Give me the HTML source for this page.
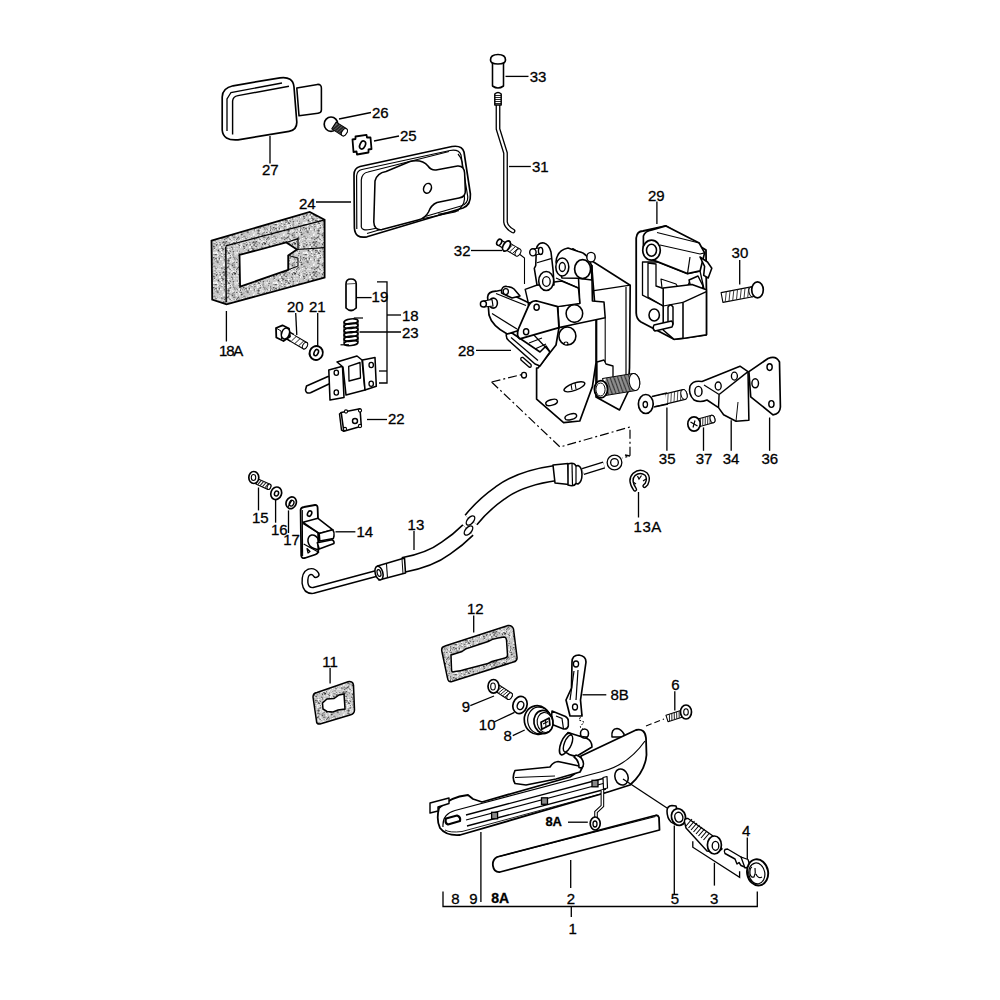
<!DOCTYPE html>
<html><head><meta charset="utf-8"><style>
html,body{margin:0;padding:0;background:#fff;width:1000px;height:1000px;overflow:hidden}
svg{display:block}
text{font-family:"Liberation Sans",sans-serif;fill:#000;stroke:#000;stroke-width:0.3px}
</style></head><body>
<svg width="1000" height="1000" viewBox="0 0 1000 1000">
<text x="262" y="175.3" font-size="15" font-weight="normal">27</text>
<path d="M270.0,136.0 L270.0,163.5" fill="none" stroke="#000" stroke-width="1.32"/>
<text x="372" y="117.5" font-size="15" font-weight="normal">26</text>
<path d="M339.0,119.0 L371.0,112.5" fill="none" stroke="#000" stroke-width="1.32"/>
<text x="400" y="141" font-size="15" font-weight="normal">25</text>
<path d="M374.0,141.0 L399.0,136.0" fill="none" stroke="#000" stroke-width="1.32"/>
<text x="299" y="209" font-size="15" font-weight="normal">24</text>
<path d="M316.0,202.0 L351.0,202.0" fill="none" stroke="#000" stroke-width="1.32"/>
<text x="219" y="355.8" font-size="15" font-weight="normal" letter-spacing="-1.2">18A</text>
<path d="M226.4,311.0 L226.4,341.5" fill="none" stroke="#000" stroke-width="1.32"/>
<text x="287" y="312" font-size="15" font-weight="normal">20</text>
<path d="M295.7,313.0 L296.8,335.0" fill="none" stroke="#000" stroke-width="1.32"/>
<text x="309" y="312" font-size="15" font-weight="normal">21</text>
<path d="M317.7,313.0 L317.7,346.0" fill="none" stroke="#000" stroke-width="1.32"/>
<text x="371.6" y="302" font-size="15" font-weight="normal">19</text>
<path d="M356.0,297.6 L371.6,297.6" fill="none" stroke="#000" stroke-width="1.32"/>
<text x="402" y="320.7" font-size="15" font-weight="normal">18</text>
<path d="M387.0,315.0 L401.0,315.0" fill="none" stroke="#000" stroke-width="1.32"/>
<text x="402" y="338" font-size="15" font-weight="normal">23</text>
<path d="M359.5,332.0 L401.0,332.0" fill="none" stroke="#000" stroke-width="1.32"/>
<text x="388" y="424" font-size="15" font-weight="normal">22</text>
<path d="M367.0,419.5 L387.0,419.5" fill="none" stroke="#000" stroke-width="1.32"/>
<path d="M377.0,281.8 L387.0,281.8 L387.0,383.0 L379.0,383.0" fill="none" stroke="#000" stroke-width="1.32"/>
<path d="M379.0,371.0 L387.0,371.0" fill="none" stroke="#000" stroke-width="1.32"/>
<text x="529.7" y="82.2" font-size="15" font-weight="normal">33</text>
<path d="M505.5,76.4 L528.5,76.4" fill="none" stroke="#000" stroke-width="1.32"/>
<text x="532" y="171.8" font-size="15" font-weight="normal">31</text>
<path d="M509.0,166.5 L530.8,166.5" fill="none" stroke="#000" stroke-width="1.32"/>
<text x="453.8" y="255.7" font-size="15" font-weight="normal">32</text>
<path d="M471.0,250.5 L502.0,250.5" fill="none" stroke="#000" stroke-width="1.32"/>
<text x="648" y="200.7" font-size="15" font-weight="normal">29</text>
<path d="M656.9,201.6 L656.9,224.0" fill="none" stroke="#000" stroke-width="1.32"/>
<text x="731.6" y="258.3" font-size="15" font-weight="normal">30</text>
<path d="M739.7,260.0 L739.7,284.4" fill="none" stroke="#000" stroke-width="1.32"/>
<text x="458" y="356" font-size="15" font-weight="normal">28</text>
<path d="M476.0,350.4 L511.0,350.4" fill="none" stroke="#000" stroke-width="1.32"/>
<text x="658.8" y="463.5" font-size="15" font-weight="normal">35</text>
<path d="M666.9,407.6 L666.9,450.8" fill="none" stroke="#000" stroke-width="1.32"/>
<text x="695.7" y="463.5" font-size="15" font-weight="normal">37</text>
<path d="M703.5,427.4 L703.5,450.8" fill="none" stroke="#000" stroke-width="1.32"/>
<text x="722.7" y="463.5" font-size="15" font-weight="normal">34</text>
<path d="M731.2,420.2 L731.2,450.8" fill="none" stroke="#000" stroke-width="1.32"/>
<text x="761.5" y="463.5" font-size="15" font-weight="normal">36</text>
<path d="M769.6,417.5 L769.6,450.8" fill="none" stroke="#000" stroke-width="1.32"/>
<text x="633.6" y="532" font-size="15" font-weight="normal" letter-spacing="0.5">13A</text>
<path d="M638.5,492.0 L638.5,517.5" fill="none" stroke="#000" stroke-width="1.32"/>
<text x="251.9" y="522.7" font-size="15" font-weight="normal">15</text>
<path d="M258.5,487.5 L258.5,510.4" fill="none" stroke="#000" stroke-width="1.32"/>
<text x="270.9" y="535" font-size="15" font-weight="normal">16</text>
<path d="M275.6,500.0 L275.6,522.7" fill="none" stroke="#000" stroke-width="1.32"/>
<text x="283.2" y="544.5" font-size="15" font-weight="normal">17</text>
<path d="M288.5,510.4 L288.5,533.0" fill="none" stroke="#000" stroke-width="1.32"/>
<text x="356.4" y="537" font-size="15" font-weight="normal">14</text>
<path d="M335.5,531.8 L355.4,531.8" fill="none" stroke="#000" stroke-width="1.32"/>
<text x="407.6" y="530.3" font-size="15" font-weight="normal">13</text>
<path d="M414.0,531.0 L414.0,550.0" fill="none" stroke="#000" stroke-width="1.32"/>
<text x="466.9" y="613.8" font-size="15" font-weight="normal">12</text>
<path d="M473.7,615.5 L473.7,632.5" fill="none" stroke="#000" stroke-width="1.32"/>
<text x="322.3" y="666.5" font-size="15" font-weight="normal">11</text>
<path d="M330.1,668.0 L330.1,683.5" fill="none" stroke="#000" stroke-width="1.32"/>
<text x="461.8" y="712.4" font-size="15" font-weight="normal">9</text>
<path d="M470.3,705.6 L494.0,696.0" fill="none" stroke="#000" stroke-width="1.32"/>
<text x="478.8" y="729.5" font-size="15" font-weight="normal">10</text>
<path d="M494.0,722.0 L514.5,712.4" fill="none" stroke="#000" stroke-width="1.32"/>
<text x="503.6" y="741.4" font-size="15" font-weight="normal">8</text>
<path d="M512.8,735.6 L524.7,730.0" fill="none" stroke="#000" stroke-width="1.32"/>
<text x="610.5" y="699.8" font-size="15" font-weight="normal">8B</text>
<path d="M582.5,694.8 L606.3,694.8" fill="none" stroke="#000" stroke-width="1.32"/>
<text x="671.2" y="690" font-size="15" font-weight="normal">6</text>
<path d="M674.8,691.2 L674.8,710.4" fill="none" stroke="#000" stroke-width="1.32"/>
<text x="742" y="836.4" font-size="15" font-weight="normal">4</text>
<path d="M747.3,837.6 L747.3,859.2" fill="none" stroke="#000" stroke-width="1.32"/>
<text x="545.4" y="826.3" font-size="13" font-weight="bold">8A</text>
<path d="M568.0,822.2 L587.8,822.2" fill="none" stroke="#000" stroke-width="1.32"/>
<text x="451.2" y="904.2" font-size="15" font-weight="normal">8</text>
<text x="469.2" y="904.2" font-size="15" font-weight="normal">9</text>
<text x="491.2" y="902.8" font-size="14" font-weight="bold">8A</text>
<text x="566.8" y="904.2" font-size="15" font-weight="normal">2</text>
<text x="670.8" y="903.8" font-size="15" font-weight="normal">5</text>
<text x="710" y="903.8" font-size="15" font-weight="normal">3</text>
<text x="568.6" y="934" font-size="15" font-weight="normal">1</text>
<path d="M443.0,891.6 L443.0,906.5 L757.3,906.5 L757.3,891.5" fill="none" stroke="#000" stroke-width="1.32"/>
<path d="M571.3,906.5 L571.3,917.0" fill="none" stroke="#000" stroke-width="1.32"/>
<path d="M480.9,832.0 L480.9,902.0" fill="none" stroke="#000" stroke-width="1.32"/>
<path d="M570.7,860.0 L570.7,888.0" fill="none" stroke="#000" stroke-width="1.32"/>
<path d="M674.3,825.6 L674.3,895.0" fill="none" stroke="#000" stroke-width="1.32"/>
<path d="M714.4,862.8 L714.4,885.6" fill="none" stroke="#000" stroke-width="1.32"/>
<defs><pattern id="foam" width="30" height="30" patternUnits="userSpaceOnUse"><rect width="30" height="30" fill="#c8c8c8"/><circle cx="9.7" cy="4.5" r="0.73" fill="#505050"/><circle cx="24.6" cy="2.8" r="0.69" fill="#909090"/><circle cx="1.1" cy="13.0" r="0.43" fill="#505050"/><circle cx="16.5" cy="1.8" r="0.68" fill="#909090"/><circle cx="18.9" cy="17.5" r="0.43" fill="#ffffff"/><circle cx="1.5" cy="6.6" r="0.68" fill="#707070"/><circle cx="8.7" cy="4.3" r="0.46" fill="#e8e8e8"/><circle cx="16.8" cy="20.5" r="0.45" fill="#909090"/><circle cx="11.2" cy="16.4" r="0.43" fill="#303030"/><circle cx="18.6" cy="14.9" r="0.67" fill="#f4f4f4"/><circle cx="14.0" cy="27.7" r="0.58" fill="#909090"/><circle cx="23.8" cy="21.0" r="0.52" fill="#e8e8e8"/><circle cx="15.8" cy="26.3" r="0.76" fill="#e8e8e8"/><circle cx="18.3" cy="2.2" r="0.66" fill="#707070"/><circle cx="22.7" cy="4.6" r="0.64" fill="#303030"/><circle cx="28.9" cy="2.3" r="0.68" fill="#f4f4f4"/><circle cx="10.2" cy="10.5" r="0.65" fill="#ffffff"/><circle cx="2.1" cy="2.8" r="0.53" fill="#505050"/><circle cx="1.8" cy="21.0" r="0.72" fill="#ffffff"/><circle cx="8.5" cy="11.6" r="0.73" fill="#303030"/><circle cx="28.2" cy="10.7" r="0.71" fill="#ffffff"/><circle cx="1.8" cy="23.0" r="0.46" fill="#909090"/><circle cx="11.9" cy="27.5" r="0.65" fill="#707070"/><circle cx="13.5" cy="16.5" r="0.84" fill="#ffffff"/><circle cx="25.9" cy="8.4" r="0.61" fill="#f4f4f4"/><circle cx="20.5" cy="11.4" r="0.52" fill="#505050"/><circle cx="5.3" cy="7.0" r="0.52" fill="#ffffff"/><circle cx="24.9" cy="5.5" r="0.54" fill="#707070"/><circle cx="12.6" cy="11.1" r="0.68" fill="#707070"/><circle cx="20.7" cy="15.5" r="0.71" fill="#303030"/><circle cx="13.7" cy="26.1" r="0.88" fill="#ffffff"/><circle cx="11.9" cy="11.8" r="0.64" fill="#ffffff"/><circle cx="1.9" cy="2.0" r="0.50" fill="#707070"/><circle cx="3.3" cy="18.0" r="0.45" fill="#707070"/><circle cx="16.1" cy="28.5" r="0.71" fill="#505050"/><circle cx="26.2" cy="18.4" r="0.47" fill="#e8e8e8"/><circle cx="28.7" cy="18.1" r="0.64" fill="#505050"/><circle cx="25.5" cy="29.8" r="0.63" fill="#ffffff"/><circle cx="9.4" cy="4.3" r="0.77" fill="#e8e8e8"/><circle cx="14.4" cy="20.8" r="0.66" fill="#909090"/><circle cx="28.5" cy="15.8" r="0.47" fill="#303030"/><circle cx="22.7" cy="8.9" r="0.72" fill="#505050"/><circle cx="20.9" cy="7.8" r="0.58" fill="#707070"/><circle cx="10.7" cy="6.7" r="0.67" fill="#f4f4f4"/><circle cx="19.1" cy="18.4" r="0.79" fill="#909090"/><circle cx="24.2" cy="24.5" r="0.77" fill="#909090"/><circle cx="6.0" cy="14.8" r="0.77" fill="#303030"/><circle cx="23.7" cy="14.2" r="0.50" fill="#f4f4f4"/><circle cx="13.4" cy="28.1" r="0.89" fill="#f4f4f4"/><circle cx="2.4" cy="3.1" r="0.64" fill="#f4f4f4"/><circle cx="6.1" cy="18.7" r="0.85" fill="#303030"/><circle cx="14.4" cy="19.6" r="0.80" fill="#505050"/><circle cx="25.0" cy="3.6" r="0.59" fill="#909090"/><circle cx="14.3" cy="5.4" r="0.79" fill="#f4f4f4"/><circle cx="2.6" cy="28.4" r="0.76" fill="#ffffff"/><circle cx="12.0" cy="28.4" r="0.76" fill="#707070"/><circle cx="29.8" cy="0.8" r="0.70" fill="#ffffff"/><circle cx="24.2" cy="4.4" r="0.81" fill="#ffffff"/><circle cx="19.7" cy="10.5" r="0.67" fill="#707070"/><circle cx="0.6" cy="24.0" r="0.76" fill="#505050"/><circle cx="15.8" cy="28.0" r="0.62" fill="#909090"/><circle cx="24.8" cy="6.3" r="0.53" fill="#e8e8e8"/><circle cx="15.0" cy="22.9" r="0.56" fill="#ffffff"/><circle cx="25.0" cy="1.8" r="0.77" fill="#ffffff"/><circle cx="19.9" cy="24.5" r="0.66" fill="#707070"/><circle cx="16.0" cy="15.7" r="0.41" fill="#ffffff"/><circle cx="23.3" cy="18.3" r="0.79" fill="#707070"/><circle cx="5.2" cy="14.2" r="0.76" fill="#303030"/><circle cx="9.8" cy="15.6" r="0.68" fill="#505050"/><circle cx="26.5" cy="1.7" r="0.50" fill="#303030"/><circle cx="23.2" cy="15.2" r="0.68" fill="#505050"/><circle cx="13.3" cy="18.4" r="0.65" fill="#909090"/><circle cx="20.8" cy="13.6" r="0.67" fill="#ffffff"/><circle cx="15.2" cy="7.4" r="0.66" fill="#e8e8e8"/><circle cx="27.7" cy="26.8" r="0.50" fill="#ffffff"/><circle cx="4.1" cy="3.6" r="0.62" fill="#505050"/><circle cx="20.1" cy="12.9" r="0.51" fill="#e8e8e8"/><circle cx="23.5" cy="26.9" r="0.48" fill="#f4f4f4"/><circle cx="4.3" cy="26.5" r="0.88" fill="#909090"/><circle cx="22.4" cy="2.8" r="0.84" fill="#707070"/><circle cx="29.7" cy="25.0" r="0.48" fill="#ffffff"/><circle cx="29.8" cy="12.1" r="0.61" fill="#f4f4f4"/><circle cx="9.6" cy="21.7" r="0.41" fill="#ffffff"/><circle cx="13.2" cy="0.5" r="0.57" fill="#e8e8e8"/><circle cx="15.4" cy="1.9" r="0.89" fill="#909090"/><circle cx="29.2" cy="3.1" r="0.53" fill="#303030"/><circle cx="27.2" cy="5.4" r="0.78" fill="#ffffff"/><circle cx="25.5" cy="20.3" r="0.87" fill="#ffffff"/><circle cx="4.5" cy="27.6" r="0.69" fill="#f4f4f4"/><circle cx="2.7" cy="1.7" r="0.74" fill="#ffffff"/><circle cx="26.9" cy="8.1" r="0.41" fill="#505050"/><circle cx="24.0" cy="2.5" r="0.83" fill="#505050"/><circle cx="7.9" cy="3.7" r="0.41" fill="#ffffff"/><circle cx="27.8" cy="8.0" r="0.46" fill="#909090"/><circle cx="28.1" cy="29.1" r="0.53" fill="#707070"/><circle cx="6.1" cy="9.4" r="0.55" fill="#909090"/><circle cx="8.7" cy="15.0" r="0.49" fill="#f4f4f4"/><circle cx="24.1" cy="29.8" r="0.42" fill="#303030"/><circle cx="22.0" cy="16.5" r="0.49" fill="#ffffff"/><circle cx="7.4" cy="13.4" r="0.73" fill="#ffffff"/><circle cx="19.7" cy="16.4" r="0.84" fill="#e8e8e8"/><circle cx="20.6" cy="29.5" r="0.57" fill="#707070"/><circle cx="12.1" cy="10.4" r="0.43" fill="#707070"/><circle cx="0.4" cy="18.8" r="0.84" fill="#ffffff"/><circle cx="4.9" cy="2.5" r="0.82" fill="#e8e8e8"/><circle cx="18.0" cy="20.8" r="0.42" fill="#707070"/><circle cx="4.7" cy="13.4" r="0.53" fill="#f4f4f4"/><circle cx="29.2" cy="16.4" r="0.52" fill="#e8e8e8"/><circle cx="6.5" cy="5.5" r="0.57" fill="#505050"/><circle cx="14.2" cy="15.1" r="0.50" fill="#303030"/><circle cx="2.7" cy="24.5" r="0.47" fill="#303030"/><circle cx="11.8" cy="9.0" r="0.71" fill="#505050"/><circle cx="17.6" cy="15.9" r="0.78" fill="#ffffff"/><circle cx="22.9" cy="21.6" r="0.65" fill="#e8e8e8"/><circle cx="21.7" cy="19.3" r="0.42" fill="#ffffff"/><circle cx="22.0" cy="24.4" r="0.47" fill="#303030"/><circle cx="24.8" cy="17.5" r="0.85" fill="#909090"/><circle cx="2.6" cy="1.3" r="0.72" fill="#505050"/><circle cx="11.3" cy="13.5" r="0.43" fill="#303030"/><circle cx="18.8" cy="20.4" r="0.64" fill="#303030"/><circle cx="13.7" cy="2.1" r="0.87" fill="#505050"/><circle cx="19.8" cy="2.0" r="0.77" fill="#e8e8e8"/><circle cx="24.3" cy="25.4" r="0.52" fill="#909090"/><circle cx="6.9" cy="19.5" r="0.63" fill="#ffffff"/><circle cx="2.3" cy="27.3" r="0.54" fill="#303030"/><circle cx="18.5" cy="19.3" r="0.44" fill="#707070"/><circle cx="10.0" cy="19.5" r="0.75" fill="#707070"/><circle cx="0.4" cy="1.8" r="0.53" fill="#505050"/><circle cx="20.8" cy="20.3" r="0.55" fill="#e8e8e8"/><circle cx="13.9" cy="14.0" r="0.46" fill="#909090"/><circle cx="9.4" cy="2.6" r="0.64" fill="#e8e8e8"/><circle cx="13.8" cy="24.6" r="0.88" fill="#ffffff"/><circle cx="29.8" cy="11.6" r="0.86" fill="#909090"/><circle cx="2.2" cy="2.7" r="0.77" fill="#e8e8e8"/><circle cx="28.6" cy="4.0" r="0.81" fill="#e8e8e8"/><circle cx="26.6" cy="21.1" r="0.52" fill="#ffffff"/><circle cx="11.8" cy="4.8" r="0.87" fill="#ffffff"/><circle cx="12.2" cy="21.8" r="0.61" fill="#ffffff"/><circle cx="9.5" cy="25.2" r="0.40" fill="#f4f4f4"/><circle cx="25.2" cy="3.6" r="0.86" fill="#303030"/><circle cx="27.0" cy="8.7" r="0.59" fill="#ffffff"/><circle cx="11.7" cy="26.1" r="0.44" fill="#ffffff"/><circle cx="22.7" cy="25.6" r="0.54" fill="#303030"/><circle cx="25.0" cy="8.6" r="0.87" fill="#909090"/><circle cx="29.1" cy="13.1" r="0.56" fill="#f4f4f4"/><circle cx="23.6" cy="12.8" r="0.41" fill="#ffffff"/><circle cx="27.4" cy="28.2" r="0.67" fill="#505050"/><circle cx="1.5" cy="22.0" r="0.63" fill="#707070"/><circle cx="19.3" cy="8.6" r="0.42" fill="#707070"/><circle cx="5.1" cy="12.4" r="0.54" fill="#e8e8e8"/><circle cx="22.2" cy="29.3" r="0.53" fill="#909090"/><circle cx="9.0" cy="16.7" r="0.60" fill="#707070"/><circle cx="19.3" cy="2.3" r="0.65" fill="#ffffff"/><circle cx="16.5" cy="13.6" r="0.57" fill="#ffffff"/><circle cx="12.8" cy="16.4" r="0.52" fill="#707070"/><circle cx="10.3" cy="2.7" r="0.52" fill="#e8e8e8"/><circle cx="24.3" cy="6.1" r="0.41" fill="#ffffff"/><circle cx="11.5" cy="22.4" r="0.51" fill="#e8e8e8"/><circle cx="10.1" cy="1.9" r="0.54" fill="#f4f4f4"/><circle cx="3.8" cy="15.1" r="0.71" fill="#909090"/><circle cx="2.8" cy="26.9" r="0.59" fill="#ffffff"/><circle cx="13.0" cy="9.4" r="0.81" fill="#303030"/><circle cx="3.8" cy="12.8" r="0.78" fill="#ffffff"/><circle cx="29.0" cy="14.7" r="0.44" fill="#ffffff"/><circle cx="29.2" cy="7.5" r="0.45" fill="#707070"/><circle cx="4.6" cy="29.2" r="0.45" fill="#ffffff"/><circle cx="2.6" cy="23.3" r="0.40" fill="#707070"/><circle cx="7.0" cy="27.6" r="0.72" fill="#e8e8e8"/><circle cx="28.9" cy="18.8" r="0.66" fill="#ffffff"/><circle cx="21.0" cy="3.4" r="0.44" fill="#909090"/><circle cx="11.6" cy="6.7" r="0.70" fill="#303030"/><circle cx="16.1" cy="29.9" r="0.54" fill="#f4f4f4"/><circle cx="19.3" cy="26.5" r="0.64" fill="#909090"/><circle cx="16.4" cy="0.9" r="0.61" fill="#e8e8e8"/><circle cx="1.7" cy="5.8" r="0.84" fill="#ffffff"/><circle cx="2.4" cy="6.8" r="0.61" fill="#f4f4f4"/><circle cx="6.8" cy="1.0" r="0.57" fill="#ffffff"/><circle cx="10.9" cy="11.9" r="0.40" fill="#e8e8e8"/><circle cx="22.2" cy="15.1" r="0.50" fill="#909090"/><circle cx="9.4" cy="24.6" r="0.52" fill="#909090"/><circle cx="8.0" cy="26.7" r="0.45" fill="#ffffff"/><circle cx="18.3" cy="26.9" r="0.64" fill="#303030"/><circle cx="28.5" cy="4.4" r="0.60" fill="#909090"/><circle cx="0.7" cy="17.9" r="0.61" fill="#303030"/><circle cx="5.5" cy="13.5" r="0.76" fill="#f4f4f4"/><circle cx="22.0" cy="29.9" r="0.87" fill="#f4f4f4"/><circle cx="5.7" cy="19.6" r="0.66" fill="#ffffff"/><circle cx="1.0" cy="19.9" r="0.59" fill="#f4f4f4"/><circle cx="29.5" cy="13.3" r="0.45" fill="#505050"/><circle cx="8.4" cy="10.5" r="0.88" fill="#505050"/><circle cx="16.8" cy="22.8" r="0.59" fill="#e8e8e8"/><circle cx="24.7" cy="13.0" r="0.42" fill="#ffffff"/><circle cx="5.9" cy="16.2" r="0.62" fill="#f4f4f4"/><circle cx="10.9" cy="26.9" r="0.42" fill="#ffffff"/><circle cx="7.4" cy="18.8" r="0.60" fill="#ffffff"/><circle cx="1.0" cy="1.9" r="0.86" fill="#e8e8e8"/><circle cx="5.8" cy="1.9" r="0.70" fill="#f4f4f4"/><circle cx="8.2" cy="28.7" r="0.71" fill="#e8e8e8"/><circle cx="22.4" cy="20.7" r="0.86" fill="#e8e8e8"/><circle cx="0.1" cy="22.7" r="0.86" fill="#505050"/><circle cx="0.7" cy="7.0" r="0.64" fill="#ffffff"/><circle cx="28.6" cy="11.6" r="0.53" fill="#ffffff"/><circle cx="24.4" cy="4.0" r="0.65" fill="#303030"/><circle cx="24.1" cy="22.2" r="0.81" fill="#707070"/><circle cx="18.2" cy="9.8" r="0.56" fill="#f4f4f4"/><circle cx="23.5" cy="17.9" r="0.66" fill="#ffffff"/><circle cx="22.6" cy="7.4" r="0.43" fill="#303030"/><circle cx="14.5" cy="16.3" r="0.48" fill="#ffffff"/><circle cx="26.5" cy="29.6" r="0.53" fill="#505050"/><circle cx="6.3" cy="12.6" r="0.89" fill="#ffffff"/><circle cx="5.2" cy="4.0" r="0.63" fill="#909090"/><circle cx="22.4" cy="25.4" r="0.73" fill="#505050"/><circle cx="23.4" cy="8.8" r="0.54" fill="#e8e8e8"/><circle cx="11.2" cy="22.1" r="0.50" fill="#909090"/><circle cx="5.6" cy="7.1" r="0.54" fill="#909090"/><circle cx="9.8" cy="11.9" r="0.90" fill="#909090"/><circle cx="19.5" cy="3.0" r="0.63" fill="#303030"/><circle cx="3.1" cy="14.2" r="0.81" fill="#ffffff"/><circle cx="27.4" cy="1.2" r="0.55" fill="#505050"/><circle cx="1.5" cy="18.0" r="0.81" fill="#909090"/><circle cx="27.9" cy="11.2" r="0.83" fill="#ffffff"/><circle cx="18.1" cy="23.2" r="0.73" fill="#303030"/><circle cx="3.2" cy="17.9" r="0.71" fill="#909090"/><circle cx="1.1" cy="10.2" r="0.42" fill="#e8e8e8"/><circle cx="1.1" cy="22.0" r="0.86" fill="#303030"/><circle cx="24.6" cy="12.3" r="0.59" fill="#e8e8e8"/><circle cx="2.3" cy="0.9" r="0.65" fill="#ffffff"/><circle cx="1.9" cy="3.0" r="0.60" fill="#707070"/><circle cx="19.2" cy="2.7" r="0.48" fill="#e8e8e8"/><circle cx="12.3" cy="8.5" r="0.55" fill="#303030"/><circle cx="9.4" cy="17.0" r="0.58" fill="#ffffff"/><circle cx="0.5" cy="23.0" r="0.80" fill="#909090"/><circle cx="11.7" cy="12.1" r="0.87" fill="#ffffff"/><circle cx="27.0" cy="12.7" r="0.81" fill="#ffffff"/><circle cx="17.3" cy="10.9" r="0.79" fill="#707070"/><circle cx="0.4" cy="16.5" r="0.72" fill="#ffffff"/><circle cx="2.7" cy="18.7" r="0.59" fill="#707070"/><circle cx="4.4" cy="8.5" r="0.66" fill="#505050"/><circle cx="3.3" cy="14.7" r="0.80" fill="#909090"/><circle cx="9.0" cy="25.1" r="0.42" fill="#ffffff"/><circle cx="9.4" cy="18.2" r="0.72" fill="#505050"/><circle cx="27.1" cy="18.6" r="0.81" fill="#707070"/><circle cx="19.2" cy="25.7" r="0.71" fill="#909090"/><circle cx="24.9" cy="5.5" r="0.51" fill="#ffffff"/><circle cx="28.2" cy="4.7" r="0.58" fill="#707070"/><circle cx="7.4" cy="21.7" r="0.85" fill="#303030"/><circle cx="26.5" cy="25.3" r="0.74" fill="#f4f4f4"/><circle cx="3.5" cy="18.0" r="0.68" fill="#e8e8e8"/><circle cx="19.5" cy="9.2" r="0.52" fill="#ffffff"/><circle cx="19.8" cy="13.4" r="0.62" fill="#303030"/><circle cx="0.1" cy="29.6" r="0.63" fill="#ffffff"/><circle cx="22.9" cy="23.4" r="0.63" fill="#707070"/><circle cx="24.3" cy="12.0" r="0.43" fill="#f4f4f4"/><circle cx="12.9" cy="2.8" r="0.62" fill="#303030"/><circle cx="1.2" cy="3.9" r="0.86" fill="#f4f4f4"/><circle cx="23.3" cy="15.3" r="0.43" fill="#ffffff"/><circle cx="19.6" cy="23.5" r="0.41" fill="#505050"/><circle cx="29.9" cy="22.0" r="0.81" fill="#909090"/><circle cx="3.9" cy="26.6" r="0.54" fill="#707070"/><circle cx="20.6" cy="21.6" r="0.51" fill="#f4f4f4"/><circle cx="18.3" cy="7.6" r="0.56" fill="#e8e8e8"/><circle cx="27.2" cy="13.7" r="0.53" fill="#ffffff"/><circle cx="6.2" cy="7.9" r="0.65" fill="#f4f4f4"/><circle cx="11.2" cy="6.0" r="0.60" fill="#e8e8e8"/><circle cx="20.4" cy="26.9" r="0.48" fill="#e8e8e8"/><circle cx="3.5" cy="15.9" r="0.72" fill="#f4f4f4"/><circle cx="29.0" cy="13.6" r="0.66" fill="#505050"/><circle cx="7.6" cy="16.1" r="0.83" fill="#f4f4f4"/><circle cx="7.9" cy="29.7" r="0.69" fill="#f4f4f4"/><circle cx="9.9" cy="2.4" r="0.52" fill="#303030"/><circle cx="8.9" cy="15.5" r="0.56" fill="#f4f4f4"/><circle cx="22.0" cy="22.4" r="0.51" fill="#e8e8e8"/><circle cx="18.5" cy="13.0" r="0.66" fill="#303030"/><circle cx="4.0" cy="6.8" r="0.73" fill="#303030"/><circle cx="1.6" cy="17.0" r="0.55" fill="#f4f4f4"/><circle cx="16.0" cy="12.4" r="0.55" fill="#707070"/><circle cx="6.1" cy="18.7" r="0.64" fill="#707070"/><circle cx="0.4" cy="24.0" r="0.75" fill="#ffffff"/><circle cx="2.9" cy="19.1" r="0.84" fill="#e8e8e8"/><circle cx="12.1" cy="7.9" r="0.41" fill="#f4f4f4"/><circle cx="17.8" cy="17.4" r="0.70" fill="#ffffff"/><circle cx="7.5" cy="27.1" r="0.42" fill="#303030"/><circle cx="12.2" cy="7.1" r="0.43" fill="#505050"/><circle cx="0.4" cy="16.5" r="0.87" fill="#707070"/><circle cx="12.4" cy="15.5" r="0.72" fill="#ffffff"/><circle cx="24.4" cy="5.2" r="0.55" fill="#e8e8e8"/><circle cx="18.8" cy="29.8" r="0.76" fill="#ffffff"/><circle cx="21.5" cy="0.2" r="0.82" fill="#ffffff"/><circle cx="2.4" cy="19.7" r="0.49" fill="#505050"/><circle cx="7.8" cy="19.3" r="0.46" fill="#e8e8e8"/><circle cx="21.4" cy="8.0" r="0.68" fill="#ffffff"/><circle cx="20.6" cy="27.5" r="0.89" fill="#e8e8e8"/><circle cx="19.3" cy="29.0" r="0.51" fill="#303030"/><circle cx="5.1" cy="27.1" r="0.82" fill="#909090"/><circle cx="28.3" cy="22.4" r="0.56" fill="#ffffff"/><circle cx="9.9" cy="7.2" r="0.85" fill="#ffffff"/><circle cx="14.2" cy="15.9" r="0.40" fill="#303030"/><circle cx="13.1" cy="21.7" r="0.69" fill="#e8e8e8"/><circle cx="23.7" cy="11.7" r="0.69" fill="#707070"/><circle cx="4.3" cy="0.8" r="0.45" fill="#707070"/><circle cx="10.3" cy="4.3" r="0.41" fill="#303030"/><circle cx="4.2" cy="19.3" r="0.42" fill="#505050"/><circle cx="22.1" cy="2.0" r="0.70" fill="#f4f4f4"/><circle cx="6.0" cy="28.6" r="0.67" fill="#505050"/><circle cx="26.4" cy="22.7" r="0.76" fill="#ffffff"/><circle cx="3.2" cy="6.2" r="0.46" fill="#303030"/><circle cx="28.5" cy="27.3" r="0.78" fill="#505050"/><circle cx="24.8" cy="18.9" r="0.54" fill="#505050"/><circle cx="4.0" cy="23.8" r="0.72" fill="#e8e8e8"/><circle cx="9.6" cy="12.7" r="0.41" fill="#e8e8e8"/><circle cx="27.9" cy="1.5" r="0.78" fill="#f4f4f4"/><circle cx="23.1" cy="18.1" r="0.64" fill="#e8e8e8"/><circle cx="18.5" cy="0.9" r="0.61" fill="#ffffff"/><circle cx="15.6" cy="2.9" r="0.63" fill="#303030"/><circle cx="16.1" cy="6.5" r="0.83" fill="#505050"/><circle cx="17.2" cy="8.6" r="0.62" fill="#909090"/><circle cx="8.7" cy="22.5" r="0.43" fill="#f4f4f4"/><circle cx="14.7" cy="14.7" r="0.80" fill="#707070"/><circle cx="29.0" cy="17.8" r="0.88" fill="#e8e8e8"/><circle cx="17.3" cy="4.8" r="0.81" fill="#909090"/><circle cx="14.9" cy="3.3" r="0.72" fill="#505050"/><circle cx="14.7" cy="29.7" r="0.68" fill="#505050"/><circle cx="18.8" cy="10.7" r="0.60" fill="#ffffff"/><circle cx="26.8" cy="22.4" r="0.61" fill="#303030"/><circle cx="11.2" cy="9.1" r="0.61" fill="#707070"/><circle cx="11.4" cy="26.5" r="0.52" fill="#ffffff"/><circle cx="3.8" cy="17.8" r="0.74" fill="#303030"/><circle cx="10.5" cy="9.8" r="0.48" fill="#ffffff"/><circle cx="19.9" cy="22.3" r="0.48" fill="#ffffff"/><circle cx="20.7" cy="7.7" r="0.52" fill="#f4f4f4"/><circle cx="13.9" cy="26.6" r="0.52" fill="#909090"/><circle cx="8.0" cy="22.6" r="0.81" fill="#707070"/><circle cx="21.7" cy="29.2" r="0.76" fill="#f4f4f4"/><circle cx="4.8" cy="9.8" r="0.49" fill="#505050"/><circle cx="4.9" cy="19.7" r="0.50" fill="#707070"/><circle cx="29.5" cy="23.8" r="0.77" fill="#ffffff"/><circle cx="8.2" cy="3.3" r="0.86" fill="#e8e8e8"/><circle cx="6.2" cy="11.7" r="0.42" fill="#ffffff"/><circle cx="25.6" cy="13.1" r="0.51" fill="#e8e8e8"/><circle cx="13.9" cy="4.3" r="0.70" fill="#ffffff"/><circle cx="0.2" cy="7.3" r="0.83" fill="#ffffff"/><circle cx="25.4" cy="20.0" r="0.73" fill="#909090"/><circle cx="20.4" cy="19.2" r="0.63" fill="#f4f4f4"/><circle cx="7.8" cy="21.0" r="0.85" fill="#909090"/><circle cx="23.5" cy="21.4" r="0.71" fill="#e8e8e8"/><circle cx="25.5" cy="14.5" r="0.41" fill="#ffffff"/><circle cx="15.5" cy="19.8" r="0.84" fill="#f4f4f4"/><circle cx="23.3" cy="11.7" r="0.64" fill="#505050"/><circle cx="1.1" cy="16.3" r="0.48" fill="#909090"/><circle cx="15.6" cy="3.0" r="0.69" fill="#909090"/><circle cx="21.5" cy="15.4" r="0.72" fill="#f4f4f4"/><circle cx="15.7" cy="12.3" r="0.87" fill="#909090"/><circle cx="29.7" cy="5.5" r="0.66" fill="#505050"/><circle cx="21.9" cy="18.4" r="0.72" fill="#e8e8e8"/><circle cx="8.2" cy="12.0" r="0.41" fill="#ffffff"/><circle cx="27.5" cy="18.9" r="0.74" fill="#e8e8e8"/><circle cx="3.3" cy="9.1" r="0.60" fill="#909090"/><circle cx="29.8" cy="28.8" r="0.63" fill="#707070"/><circle cx="3.9" cy="23.3" r="0.80" fill="#909090"/><circle cx="14.1" cy="16.9" r="0.51" fill="#707070"/><circle cx="10.6" cy="19.2" r="0.81" fill="#ffffff"/><circle cx="14.0" cy="8.8" r="0.67" fill="#707070"/><circle cx="23.4" cy="14.1" r="0.79" fill="#909090"/><circle cx="8.0" cy="11.3" r="0.53" fill="#ffffff"/><circle cx="20.4" cy="14.4" r="0.80" fill="#e8e8e8"/><circle cx="10.7" cy="19.6" r="0.56" fill="#ffffff"/><circle cx="12.9" cy="19.1" r="0.73" fill="#f4f4f4"/><circle cx="4.6" cy="9.1" r="0.59" fill="#505050"/><circle cx="24.8" cy="27.2" r="0.79" fill="#707070"/><circle cx="15.9" cy="10.4" r="0.69" fill="#303030"/><circle cx="6.3" cy="2.2" r="0.55" fill="#505050"/><circle cx="17.4" cy="25.6" r="0.49" fill="#ffffff"/><circle cx="10.4" cy="4.6" r="0.85" fill="#707070"/><circle cx="18.3" cy="20.6" r="0.89" fill="#505050"/><circle cx="20.1" cy="26.8" r="0.79" fill="#e8e8e8"/><circle cx="5.9" cy="20.8" r="0.67" fill="#ffffff"/><circle cx="20.1" cy="3.5" r="0.46" fill="#ffffff"/><circle cx="7.0" cy="4.2" r="0.65" fill="#303030"/><circle cx="14.5" cy="27.2" r="0.75" fill="#909090"/><circle cx="14.9" cy="16.2" r="0.83" fill="#303030"/><circle cx="4.8" cy="9.6" r="0.75" fill="#ffffff"/><circle cx="20.0" cy="25.2" r="0.59" fill="#ffffff"/><circle cx="30.0" cy="20.3" r="0.49" fill="#f4f4f4"/><circle cx="19.1" cy="0.9" r="0.70" fill="#f4f4f4"/><circle cx="24.3" cy="2.8" r="0.64" fill="#707070"/><circle cx="1.0" cy="21.5" r="0.71" fill="#f4f4f4"/><circle cx="2.8" cy="19.8" r="0.57" fill="#909090"/><circle cx="8.5" cy="10.3" r="0.53" fill="#303030"/><circle cx="24.8" cy="8.8" r="0.81" fill="#ffffff"/><circle cx="10.0" cy="29.5" r="0.84" fill="#f4f4f4"/><circle cx="29.2" cy="19.6" r="0.80" fill="#f4f4f4"/><circle cx="5.8" cy="21.4" r="0.46" fill="#505050"/><circle cx="23.5" cy="1.2" r="0.76" fill="#ffffff"/><circle cx="16.4" cy="1.5" r="0.55" fill="#303030"/><circle cx="1.4" cy="24.7" r="0.64" fill="#303030"/><circle cx="23.7" cy="27.3" r="0.71" fill="#707070"/><circle cx="18.8" cy="20.9" r="0.70" fill="#505050"/><circle cx="6.4" cy="20.0" r="0.63" fill="#707070"/><circle cx="3.0" cy="5.4" r="0.42" fill="#505050"/><circle cx="27.4" cy="19.7" r="0.58" fill="#707070"/><circle cx="23.6" cy="16.9" r="0.53" fill="#e8e8e8"/><circle cx="5.5" cy="1.0" r="0.41" fill="#303030"/><circle cx="14.9" cy="15.7" r="0.81" fill="#ffffff"/><circle cx="17.3" cy="27.6" r="0.62" fill="#303030"/><circle cx="20.4" cy="17.8" r="0.90" fill="#707070"/><circle cx="14.3" cy="12.4" r="0.45" fill="#ffffff"/><circle cx="6.4" cy="4.6" r="0.41" fill="#303030"/><circle cx="0.3" cy="20.1" r="0.89" fill="#505050"/><circle cx="6.5" cy="3.6" r="0.64" fill="#e8e8e8"/><circle cx="21.6" cy="7.3" r="0.77" fill="#707070"/><circle cx="27.7" cy="11.0" r="0.77" fill="#707070"/><circle cx="21.9" cy="2.5" r="0.71" fill="#ffffff"/><circle cx="13.8" cy="28.0" r="0.53" fill="#303030"/><circle cx="21.5" cy="0.3" r="0.41" fill="#505050"/><circle cx="11.7" cy="9.4" r="0.70" fill="#ffffff"/><circle cx="18.3" cy="9.5" r="0.87" fill="#ffffff"/><circle cx="14.1" cy="5.0" r="0.88" fill="#505050"/><circle cx="10.9" cy="19.3" r="0.71" fill="#ffffff"/><circle cx="14.3" cy="23.3" r="0.63" fill="#e8e8e8"/><circle cx="23.5" cy="17.0" r="0.55" fill="#303030"/></pattern></defs>
<path d="M222.2,97 Q222.5,88 233,85.8 L280,77.8 Q293,76 294,87 L296.8,122 Q297,130 289,131.4 L238,139.8 Q223,141 222.2,130 Z" fill="#fff" stroke="#000" stroke-width="1.68" stroke-linejoin="round"/>
<path d="M227.0,131.0 L227.0,99.0 L231.0,92.5 L282.0,83.0" fill="none" stroke="#000" stroke-width="1.32"/>
<path d="M232.6,134.5 L232.6,101 Q233,96.5 238,95.6 L289,86.2" fill="none" stroke="#000" stroke-width="1.44" stroke-linejoin="round"/>
<path d="M296.8,88 L317.6,84.4 Q321.4,84.2 321.4,88 L321.4,110 Q321.4,112.8 318,113.2 L299,115.8 Z" fill="#fff" stroke="#000" stroke-width="1.56" stroke-linejoin="round"/>
<ellipse cx="331" cy="124.2" rx="6.8" ry="7.2" transform="rotate(0 331 124.2)" fill="#fff" stroke="#000" stroke-width="1.68"/>
<path d="M331.8,128.9 L342.2,135.6 A2.4,4.0 33 0 0 346.6,128.8 L336.2,122.1 Z" fill="#666" stroke="#000" stroke-width="1.1" stroke-linejoin="round"/>
<path d="M332.9,129.6 L339.3,124.1 M335.0,130.9 L341.3,125.5 M337.1,132.2 L343.4,126.8 M339.1,133.6 L345.5,128.1" stroke="#222" stroke-width="1.6" fill="none"/>
<ellipse cx="344.4" cy="132.2" rx="2.4" ry="4.0" transform="rotate(33 344.4 132.2)" fill="#fff" stroke="#000" stroke-width="0.99"/>
<path d="M352.5,139.5 L355.5,139 L355.5,136.5 L366.5,134.8 L367,137.5 L370.5,137.5 L371.5,149 L368.5,149.5 L368.5,152.5 L357,154.5 L356.5,151.5 L353.5,152 Z" fill="#fff" stroke="#000" stroke-width="1.80" stroke-linejoin="round"/>
<ellipse cx="362.6" cy="145" rx="2.6" ry="4.2" transform="rotate(25 362.6 145)" fill="#fff" stroke="#000" stroke-width="1.68"/>
<path d="M354,175 Q354,168 360,166.5 L452,146.5 Q462,145 464,152 L470.4,194 Q471,205 463,208 L367,236.8 Q355,239 354.4,228 Z" fill="#fff" stroke="#000" stroke-width="1.68" stroke-linejoin="round"/>
<path d="M356.8,229 L356.6,176 Q357,170.5 362,169.5 L450,150.5 Q459,149 461,155 L467.8,197 Q468,204 461,206 L367,233.5" fill="none" stroke="#000" stroke-width="1.20" stroke-linejoin="round"/>
<path d="M361.3,227 L361.3,180 Q362,173 368,172 L449,151.5 M458,154 Q461,157 462,162 L464.5,199 Q464,207 455,212 L370,229.5 Q362,231 361.3,227" fill="none" stroke="#000" stroke-width="1.20" stroke-linejoin="round"/>
<path d="M375,181 Q377,173 386,171.5 L410,161.5 Q422,159 428,166 Q431,170.5 436,170 L457.5,166 Q464,165.5 464.6,173 L465.3,190 Q466,197 459,198 L437,202.5 Q431,205 428.5,212 Q425.5,218 418,220 L382,229.6 Q374,230.5 373.8,222 Z" fill="#fff" stroke="#000" stroke-width="1.56" stroke-linejoin="round"/>
<ellipse cx="427.5" cy="188.3" rx="3.8" ry="5" transform="rotate(20 427.5 188.3)" fill="#fff" stroke="#000" stroke-width="1.56"/>
<path d="M438.0,214.2 L459.0,210.7" fill="none" stroke="#000" stroke-width="0.96"/>
<path d="M211.5,240.6 L309.7,212 L324.6,219.8 L324.6,277.6 L226.5,304.3 L212.2,299.7 Z M239.5,254.9 L286.3,242.5 L297,249.5 L288.2,255.5 L288.2,269.8 L240.1,286.7 Z" fill="url(#foam)" fill-rule="evenodd" stroke="#000" stroke-width="1.8"/>
<path d="M225.8,245.8 L324.6,219.8" fill="none" stroke="#000" stroke-width="1.20"/>
<path d="M225.8,247.0 L226.2,302.0" fill="none" stroke="#000" stroke-width="1.44"/>
<path d="M297.0,249.5 L324.6,247.7" fill="none" stroke="#000" stroke-width="1.20"/>
<path d="M286.3,242.5 L298.0,238.6 L298.0,249.5" fill="none" stroke="#000" stroke-width="1.20"/>
<path d="M288.2,255.5 L298.0,258.0 L298.0,266.0 L288.2,269.8" fill="none" stroke="#000" stroke-width="0.96"/>
<path d="M346,284 Q346,279 351,279 Q356.2,279 356.2,284 L356.2,308 Q351,313 346,308 Z" fill="#fff" stroke="#000" stroke-width="1.68" stroke-linejoin="round"/>
<path d="M347.0,284.0 L355.5,283.5" fill="none" stroke="#000" stroke-width="0.72"/>
<path d="M353.8,318.0 L363.0,318.0" fill="none" stroke="#000" stroke-width="1.20"/>
<path d="M340.5,344.8 L349.0,344.8" fill="none" stroke="#000" stroke-width="1.20"/>
<ellipse cx="351" cy="321.5" rx="7" ry="2.6" transform="rotate(-6 351 321.5)" fill="none" stroke="#000" stroke-width="1.56"/>
<ellipse cx="351" cy="325.8" rx="7" ry="2.6" transform="rotate(-6 351 325.8)" fill="none" stroke="#000" stroke-width="1.56"/>
<ellipse cx="351" cy="330.1" rx="7" ry="2.6" transform="rotate(-6 351 330.1)" fill="none" stroke="#000" stroke-width="1.56"/>
<ellipse cx="351" cy="334.4" rx="7" ry="2.6" transform="rotate(-6 351 334.4)" fill="none" stroke="#000" stroke-width="1.56"/>
<ellipse cx="351" cy="338.7" rx="7" ry="2.6" transform="rotate(-6 351 338.7)" fill="none" stroke="#000" stroke-width="1.56"/>
<ellipse cx="351" cy="343.0" rx="7" ry="2.6" transform="rotate(-6 351 343.0)" fill="none" stroke="#000" stroke-width="1.56"/>
<path d="M344.0,321.5 L344.0,343.0" fill="none" stroke="#000" stroke-width="1.08"/>
<path d="M358.0,320.5 L358.0,342.0" fill="none" stroke="#000" stroke-width="1.08"/>
<path d="M284.2,337.6 L303.2,348.7 A2.2,3.6 30 0 0 306.8,342.5 L287.8,331.4 Z" fill="#fff" stroke="#000" stroke-width="1.1" stroke-linejoin="round"/>
<path d="M287.1,339.3 L292.5,334.2 M290.9,341.5 L296.3,336.4 M294.7,343.7 L300.1,338.6 M298.5,345.9 L303.9,340.8" stroke="#222" stroke-width="1.0" fill="none"/>
<ellipse cx="305.0" cy="345.6" rx="2.2" ry="3.6" transform="rotate(30 305.0 345.6)" fill="#fff" stroke="#000" stroke-width="0.99"/>
<rect x="286" y="330" width="8" height="7.6" fill="#fff" transform="rotate(30 286 334)"/>
<path d="M287.5,330.8 L294.0,334.6" fill="none" stroke="#000" stroke-width="1.44"/>
<path d="M284.2,337.4 L290.5,341.1" fill="none" stroke="#000" stroke-width="1.44"/>
<path d="M276,328 L282.5,325.3 L289,328.5 L290,336.5 L283.5,341 L276.3,337.5 Z" fill="#fff" stroke="#000" stroke-width="1.80" stroke-linejoin="round"/>
<path d="M276.0,328.0 L281.0,331.0 L281.5,339.0" fill="none" stroke="#000" stroke-width="0.96"/>
<ellipse cx="285.5" cy="333.5" rx="3.8" ry="5.5" transform="rotate(20 285.5 333.5)" fill="#fff" stroke="#000" stroke-width="1.56"/>
<ellipse cx="316.2" cy="353" rx="6.6" ry="7" transform="rotate(20 316.2 353)" fill="#fff" stroke="#000" stroke-width="1.92"/>
<ellipse cx="316.2" cy="352.6" rx="2" ry="3.3" transform="rotate(25 316.2 352.6)" fill="#fff" stroke="#000" stroke-width="1.56"/>
<path d="M306.5,386 L328,376.5 Q331,376 331,380 L331,383 L310.5,392.8 Q306,394 305.5,390 Z" fill="#fff" stroke="#000" stroke-width="1.56" stroke-linejoin="round"/>
<path d="M328.8,370 L342.5,366.3 L344,397.5 L330,400 Z" fill="#fff" stroke="#000" stroke-width="1.56" stroke-linejoin="round"/>
<ellipse cx="336.3" cy="372.7" rx="2.2" ry="2.6" transform="rotate(0 336.3 372.7)" fill="#fff" stroke="#000" stroke-width="1.32"/>
<ellipse cx="336.3" cy="392.5" rx="2.2" ry="2.6" transform="rotate(0 336.3 392.5)" fill="#fff" stroke="#000" stroke-width="1.32"/>
<path d="M337,362 L357,356 L362,360 L365,390 L346,395 L343,367 Z" fill="#fff" stroke="#000" stroke-width="1.56" stroke-linejoin="round"/>
<path d="M348.7,366.3 L360,362.5 L360.5,378 L349,381 Z" fill="#fff" stroke="#000" stroke-width="1.32" stroke-linejoin="round"/>
<path d="M362.5,360 L375,357.5 L376.3,386.3 L365,390 Z" fill="#fff" stroke="#000" stroke-width="1.56" stroke-linejoin="round"/>
<ellipse cx="371.2" cy="365" rx="2.2" ry="2.6" transform="rotate(0 371.2 365)" fill="#fff" stroke="#000" stroke-width="1.32"/>
<ellipse cx="371.2" cy="383.7" rx="2.2" ry="2.6" transform="rotate(0 371.2 383.7)" fill="#fff" stroke="#000" stroke-width="1.32"/>
<path d="M341.2,412.5 L360,408.8 L361.3,426.2 L343.8,431.3 Z" fill="#fff" stroke="#000" stroke-width="1.56" stroke-linejoin="round"/>
<path d="M341.2,412.5 L339.5,414.0 L341.5,430.0 L343.8,431.3" fill="none" stroke="#000" stroke-width="1.44"/>
<ellipse cx="355" cy="421" rx="2.5" ry="2.5" transform="rotate(0 355 421)" fill="#fff" stroke="#000" stroke-width="1.44"/>
<ellipse cx="346" cy="411.5" rx="1.6" ry="1.6" transform="rotate(0 346 411.5)" fill="#fff" stroke="#000" stroke-width="1.08"/>
<ellipse cx="360" cy="410.5" rx="1.6" ry="1.6" transform="rotate(0 360 410.5)" fill="#fff" stroke="#000" stroke-width="1.08"/>
<ellipse cx="345" cy="429" rx="1.6" ry="1.6" transform="rotate(0 345 429)" fill="#fff" stroke="#000" stroke-width="1.08"/>
<ellipse cx="360" cy="426" rx="1.6" ry="1.6" transform="rotate(0 360 426)" fill="#fff" stroke="#000" stroke-width="1.08"/>
<path d="M492.5,62 L492.5,86 Q498,90 503.5,86 L503.5,62 Z" fill="#fff" stroke="#000" stroke-width="1.56" stroke-linejoin="round"/>
<path d="M490.5,60 Q490.5,54.5 498,54.5 Q505.5,54.5 505.5,60 Q505.5,64 498,64 Q490.5,64 490.5,60 Z" fill="#fff" stroke="#000" stroke-width="1.68" stroke-linejoin="round"/>
<path d="M498,100 L498,129 L505.5,153 L505.5,222 Q506,227 513,231" fill="none" stroke="#000" stroke-width="4.8" stroke-linejoin="round" stroke-linecap="round"/>
<path d="M498,100 L498,129 L505.5,153 L505.5,222 Q506,227 513,231" fill="none" stroke="#fff" stroke-width="2.2" stroke-linejoin="round" stroke-linecap="round"/>
<path d="M494.8,94 Q498,91 501.2,94 L501.2,105 L494.8,105 Z" fill="#fff" stroke="#000" stroke-width="1.44" stroke-linejoin="round"/>
<path d="M494.8,95.5 L501.2,95.5" fill="none" stroke="#000" stroke-width="0.84"/>
<path d="M494.8,97.5 L501.2,97.5" fill="none" stroke="#000" stroke-width="0.84"/>
<path d="M494.8,99.5 L501.2,99.5" fill="none" stroke="#000" stroke-width="0.84"/>
<path d="M494.8,101.5 L501.2,101.5" fill="none" stroke="#000" stroke-width="0.84"/>
<path d="M494.8,103.5 L501.2,103.5" fill="none" stroke="#000" stroke-width="0.84"/>
<path d="M505.0,249.4 L516.0,255.9 A2.4,4.0 31 0 0 520.0,249.1 L509.0,242.6 Z" fill="#fff" stroke="#000" stroke-width="1.1" stroke-linejoin="round"/>
<path d="M506.7,250.5 L512.8,244.8 M509.4,252.1 L515.6,246.4 M512.2,253.7 L518.3,248.0" stroke="#222" stroke-width="1.0" fill="none"/>
<ellipse cx="518.0" cy="252.5" rx="2.4" ry="4.0" transform="rotate(31 518.0 252.5)" fill="#fff" stroke="#000" stroke-width="0.99"/>
<path d="M500,239.5 L506,243 L503.5,248.5 L498,245 Z" fill="#fff" stroke="#000" stroke-width="1.44" stroke-linejoin="round"/>
<ellipse cx="499.2" cy="242.3" rx="2.2" ry="3.3" transform="rotate(30 499.2 242.3)" fill="#fff" stroke="#000" stroke-width="1.56"/>
<ellipse cx="506.5" cy="246" rx="3.2" ry="5.6" transform="rotate(30 506.5 246)" fill="#fff" stroke="#000" stroke-width="1.80"/>
<path d="M520.0,254.5 L524.5,258.0 L524.5,284.0" fill="none" stroke="#000" stroke-width="1.08"/>
<path d="M491.6,382 L524,374 M491.6,382 L560,447 L630,427 L630,456 L622,458" fill="none" stroke="#000" stroke-width="1.2" stroke-dasharray="9,3,2,3"/>
<path d="M572.8,248.8 L630.2,285.2 L629.5,368 L628,392 L619.5,410 L596,397 L596,320 L591.7,265.6 Z" fill="#fff" stroke="#000" stroke-width="1.68" stroke-linejoin="round"/>
<path d="M626.0,287.0 L626.0,392.0" fill="none" stroke="#000" stroke-width="1.20"/>
<path d="M592.4,290.8 L630.2,285.2" fill="none" stroke="#000" stroke-width="1.32"/>
<path d="M596.8,319.0 L596.8,380.0" fill="none" stroke="#000" stroke-width="1.08"/>
<path d="M605.2,318.0 L605.2,362.0" fill="none" stroke="#000" stroke-width="1.08"/>
<path d="M597,362 L604,360 L606,364 L613,366 L613,383 L597,386 Z" fill="#fff" stroke="#000" stroke-width="1.32" stroke-linejoin="round"/>
<path d="M605.4,395.5 L635.9,390.5 A5.2,8.6 -9 0 0 633.1,373.5 L602.6,378.5 Z" fill="#fff" stroke="#000" stroke-width="1.1" stroke-linejoin="round"/>
<path d="M604.2,395.7 L606.5,377.9 M605.6,395.4 L607.9,377.6 M607.0,395.2 L609.3,377.4 M608.4,395.0 L610.7,377.2 M609.8,394.8 L612.1,377.0 M611.2,394.5 L613.5,376.7 M612.5,394.3 L614.9,376.5 M613.9,394.1 L616.2,376.3 M615.3,393.9 L617.6,376.1 M616.7,393.6 L619.0,375.8 M618.1,393.4 L620.4,375.6 M619.5,393.2 L621.8,375.4 M620.9,392.9 L623.2,375.1 M622.3,392.7 L624.6,374.9 M623.6,392.5 L626.0,374.7 M625.0,392.3 L627.3,374.5 M626.4,392.0 L628.7,374.2 M627.8,391.8 L630.1,374.0 M629.2,391.6 L631.5,373.8 M630.6,391.4 L632.9,373.6 M632.0,391.1 L634.3,373.3" stroke="#222" stroke-width="0.9" fill="none"/>
<ellipse cx="634.5" cy="382.0" rx="5.2" ry="8.6" transform="rotate(-9 634.5 382.0)" fill="#fff" stroke="#000" stroke-width="0.99"/>
<ellipse cx="601" cy="389.2" rx="6.6" ry="8.6" transform="rotate(0 601 389.2)" fill="#fff" stroke="#000" stroke-width="1.80"/>
<ellipse cx="600.5" cy="389.5" rx="4.6" ry="6.5" transform="rotate(0 600.5 389.5)" fill="none" stroke="#000" stroke-width="0.96"/>
<path d="M536.6,368 L536.6,399.2 L563.6,422.6 L579.8,421 L592.4,386.6 L596,363 L596,318 L559,327.6 L556,345 L538,368 Z" fill="#fff" stroke="#000" stroke-width="1.68" stroke-linejoin="round"/>
<ellipse cx="574.4" cy="386.8" rx="11" ry="3.6" transform="rotate(-20 574.4 386.8)" fill="#fff" stroke="#000" stroke-width="1.44"/>
<ellipse cx="551.6" cy="402.4" rx="6" ry="2.8" transform="rotate(-15 551.6 402.4)" fill="#fff" stroke="#000" stroke-width="1.44"/>
<ellipse cx="570.8" cy="416.8" rx="6" ry="2.8" transform="rotate(-15 570.8 416.8)" fill="#fff" stroke="#000" stroke-width="1.44"/>
<path d="M571.0,384.0 L572.0,390.0" fill="none" stroke="#000" stroke-width="1.08"/>
<path d="M575.0,383.0 L576.0,389.0" fill="none" stroke="#000" stroke-width="1.08"/>
<path d="M506.5,333.5 Q505.5,338 508.6,340.5 L535,364 L540,366 L550,352 L546,346 L540,352 L512,333 Z" fill="#fff" stroke="#000" stroke-width="1.56" stroke-linejoin="round"/>
<path d="M511.0,337.5 L538.0,360.5" fill="none" stroke="#000" stroke-width="1.20"/>
<path d="M523.0,338.0 L533.0,334.0 L550.0,352.0" fill="none" stroke="#000" stroke-width="1.20"/>
<path d="M529.0,343.0 L542.0,338.0" fill="none" stroke="#000" stroke-width="1.08"/>
<path d="M535.0,349.0 L546.0,344.0" fill="none" stroke="#000" stroke-width="1.08"/>
<path d="M521,360 Q520,357 523,357.5 L531,364.5 Q532,368 529,367 Z" fill="#fff" stroke="#000" stroke-width="1.32" stroke-linejoin="round"/>
<ellipse cx="524" cy="375.2" rx="2.5" ry="2.8" transform="rotate(0 524 375.2)" fill="#fff" stroke="#000" stroke-width="1.32"/>
<ellipse cx="567.4" cy="336" rx="8.5" ry="9" transform="rotate(0 567.4 336)" fill="#fff" stroke="#000" stroke-width="1.56"/>
<ellipse cx="566" cy="343.5" rx="2" ry="1.5" transform="rotate(0 566 343.5)" fill="#fff" stroke="#000" stroke-width="1.20"/>
<path d="M578.4,276 L591.7,265.6 L592.4,301 L604,302 L605.2,317.8 L559,327.6 L557.6,306.6 L579.8,303.4 Z" fill="#fff" stroke="#000" stroke-width="1.56" stroke-linejoin="round"/>
<ellipse cx="574.4" cy="313.6" rx="8.3" ry="8.8" transform="rotate(0 574.4 313.6)" fill="#fff" stroke="#000" stroke-width="1.56"/>
<path d="M487.6,297 Q488,291.5 496,291.2 L502,290 L528.2,302.4 L530,320 L517,331 L507.2,334 Q492,326 489,315 Z" fill="#fff" stroke="#000" stroke-width="1.68" stroke-linejoin="round"/>
<path d="M496.0,293.5 L526.0,305.5" fill="none" stroke="#000" stroke-width="1.20"/>
<path d="M492.0,313.6 L517.0,329.0" fill="none" stroke="#000" stroke-width="1.20"/>
<path d="M501.6,293 Q501,285.5 507,286.5 Q512,287 514,289 L520,296 L512,298 Z" fill="#fff" stroke="#000" stroke-width="1.56" stroke-linejoin="round"/>
<ellipse cx="505.8" cy="291.6" rx="2.6" ry="3" transform="rotate(0 505.8 291.6)" fill="#fff" stroke="#000" stroke-width="1.32"/>
<ellipse cx="493.2" cy="303.1" rx="4.2" ry="5" transform="rotate(0 493.2 303.1)" fill="#fff" stroke="#000" stroke-width="1.56"/>
<path d="M483.4,301 L492,299.5 L493,306 L484,307 Z" fill="#fff" stroke="#000" stroke-width="1.20" stroke-linejoin="round"/>
<ellipse cx="483.4" cy="304" rx="3" ry="3" transform="rotate(0 483.4 304)" fill="#fff" stroke="#000" stroke-width="1.44"/>
<path d="M525.2,289.4 L540,284 L561.6,281 L578.4,288 L579.8,303.4 L557.6,306.6 L528.2,302.4 Z" fill="#fff" stroke="#000" stroke-width="1.44" stroke-linejoin="round"/>
<path d="M556.0,278.0 L578.4,288.0" fill="none" stroke="#000" stroke-width="1.20"/>
<path d="M519.8,338.8 Q516,336 518.4,329 L528.2,306.6 Q531,300 537,301 L557.6,306.6 L559,327.6 Z" fill="#fff" stroke="#000" stroke-width="1.80" stroke-linejoin="round"/>
<ellipse cx="536.6" cy="307.3" rx="2.6" ry="3" transform="rotate(0 536.6 307.3)" fill="#fff" stroke="#000" stroke-width="1.44"/>
<ellipse cx="526.1" cy="331.8" rx="2.6" ry="3" transform="rotate(0 526.1 331.8)" fill="#fff" stroke="#000" stroke-width="1.44"/>
<path d="M536.4,248.8 Q538,242 544,243 Q549,244.5 551,252 L553.2,271.2 L554,285 L537,285 L534.3,268.4 L535.7,265.6 Z" fill="#fff" stroke="#000" stroke-width="1.56" stroke-linejoin="round"/>
<path d="M537.0,262.8 L551.0,258.6" fill="none" stroke="#000" stroke-width="1.20"/>
<ellipse cx="546.2" cy="281" rx="7.5" ry="9.5" transform="rotate(0 546.2 281)" fill="#fff" stroke="#000" stroke-width="1.56"/>
<ellipse cx="546.4" cy="281.5" rx="3.8" ry="4.8" transform="rotate(0 546.4 281.5)" fill="#fff" stroke="#000" stroke-width="1.32"/>
<path d="M533,249 L539,248 L541,253.5 L534,255.5 Z" fill="#fff" stroke="#000" stroke-width="1.20" stroke-linejoin="round"/>
<ellipse cx="532.9" cy="252.3" rx="3.2" ry="3.6" transform="rotate(0 532.9 252.3)" fill="#fff" stroke="#000" stroke-width="1.44"/>
<ellipse cx="540.6" cy="250.9" rx="2.2" ry="3.6" transform="rotate(0 540.6 250.9)" fill="#fff" stroke="#000" stroke-width="1.32"/>
<path d="M556,262 Q557,250 568,248 L578.4,251.6 Q586,253 589,260 L591.7,265.6 L591.7,280 L578.4,278.2 L562,278 Z" fill="#fff" stroke="#000" stroke-width="1.56" stroke-linejoin="round"/>
<ellipse cx="591" cy="257.2" rx="4.2" ry="4.8" transform="rotate(0 591 257.2)" fill="#fff" stroke="#000" stroke-width="1.44"/>
<ellipse cx="562.3" cy="267" rx="6.5" ry="9" transform="rotate(0 562.3 267)" fill="#fff" stroke="#000" stroke-width="1.56"/>
<ellipse cx="562.3" cy="267" rx="3" ry="4.5" transform="rotate(0 562.3 267)" fill="#fff" stroke="#000" stroke-width="1.32"/>
<ellipse cx="582.6" cy="269.1" rx="8" ry="9.5" transform="rotate(0 582.6 269.1)" fill="#fff" stroke="#000" stroke-width="1.68"/>
<path d="M636.2,238 Q637,231 643,231 L666,226 L706,250 L706.4,291.6 L706.4,334.8 L674,339.3 L641,322 Q636.4,319 636.2,313 Z" fill="#fff" stroke="#000" stroke-width="1.80" stroke-linejoin="round"/>
<path d="M642.5,262 L652,262 L657.8,262 L687.5,273.6 L700,271 L702,280 L704,289 L706.4,291.6 L683,302.4 L663.2,306 L642.5,295.2 Z" fill="#fff" stroke="#000" stroke-width="1.32" stroke-linejoin="round"/>
<path d="M648,263 L656,264 L656,286 L662,288 L683,296 L690,281 L700,284 L701,292 L683,302.4 L663.2,306 L648,297 Z" fill="none" stroke="#000" stroke-width="1.32" stroke-linejoin="round"/>
<path d="M661,279 L676,284 L683,296 L662,288 Z" fill="#fff" stroke="#000" stroke-width="1.20" stroke-linejoin="round"/>
<path d="M689,280 L698,276 L703,286 L700,296 L692,292 Z" fill="#fff" stroke="#000" stroke-width="1.44" stroke-linejoin="round"/>
<path d="M643.4,236 Q645,231 652,230 L665.9,225.9 L699.2,243 L704.6,252.9 L700.1,270.9 L687.5,273.6 L657.8,261.9 Q644,257 643.4,250 Z" fill="#fff" stroke="#000" stroke-width="1.68" stroke-linejoin="round"/>
<path d="M657.0,232.5 L699.2,243.0" fill="none" stroke="#000" stroke-width="1.20"/>
<path d="M660.0,245.0 L700.0,254.0 L704.6,252.9" fill="none" stroke="#000" stroke-width="1.20"/>
<path d="M687.5,273.6 L690.0,257.0" fill="none" stroke="#000" stroke-width="1.20"/>
<ellipse cx="651.5" cy="250.2" rx="8.8" ry="10" transform="rotate(0 651.5 250.2)" fill="#fff" stroke="#000" stroke-width="1.68"/>
<ellipse cx="651.5" cy="250.2" rx="5" ry="6" transform="rotate(0 651.5 250.2)" fill="#fff" stroke="#000" stroke-width="1.56"/>
<path d="M700,257 L707.5,262 L711.8,268.2 L708.2,278 L703.7,275.4 L704.6,266.4 Z" fill="#fff" stroke="#000" stroke-width="1.56" stroke-linejoin="round"/>
<path d="M663.2,288 L692,284.4 L706.4,289.8 L706.4,334.8 L683,338.4 L674,339.3 L663.2,330 Z" fill="#fff" stroke="#000" stroke-width="1.56" stroke-linejoin="round"/>
<path d="M683.0,302.4 L706.4,291.6" fill="none" stroke="#000" stroke-width="1.32"/>
<path d="M683.0,302.4 L683.0,338.4" fill="none" stroke="#000" stroke-width="1.56"/>
<path d="M663.2,306.0 L683.0,302.4" fill="none" stroke="#000" stroke-width="1.20"/>
<ellipse cx="654.2" cy="315" rx="5.2" ry="6" transform="rotate(0 654.2 315)" fill="#fff" stroke="#000" stroke-width="1.56"/>
<path d="M668,307 Q670.5,303 673,307 L673,324 Q670.5,327 668,324 Z" fill="#fff" stroke="#000" stroke-width="1.44" stroke-linejoin="round"/>
<path d="M654,325 L671.5,321 Q674,323 672,327 L655,331 Q652,329 654,325 Z" fill="#fff" stroke="#000" stroke-width="1.56" stroke-linejoin="round"/>
<path d="M722.9,302.4 L752.9,296.7 A3.0,5.0 -11 0 0 751.1,286.9 L721.1,292.6 Z" fill="#fff" stroke="#000" stroke-width="1.1" stroke-linejoin="round"/>
<path d="M725.2,302.0 L726.3,291.6 M729.0,301.3 L730.0,290.9 M732.7,300.6 L733.8,290.2 M736.5,299.8 L737.5,289.5 M740.2,299.1 L741.3,288.7 M744.0,298.4 L745.0,288.0 M747.7,297.7 L748.8,287.3" stroke="#222" stroke-width="0.9" fill="none"/>
<ellipse cx="752.0" cy="291.8" rx="3.0" ry="5.0" transform="rotate(-11 752.0 291.8)" fill="#fff" stroke="#000" stroke-width="0.99"/>
<ellipse cx="757.5" cy="289.8" rx="5.8" ry="8" transform="rotate(0 757.5 289.8)" fill="#fff" stroke="#000" stroke-width="1.68"/>
<path d="M656.2,406.4 L685.2,399.4 A3.0,5.0 -14 0 0 682.8,389.6 L653.8,396.6 Z" fill="#fff" stroke="#000" stroke-width="1.1" stroke-linejoin="round"/>
<path d="M657.9,405.9 L658.5,395.5 M661.2,405.2 L661.7,394.7 M664.4,404.4 L665.0,394.0 M667.6,403.6 L668.2,393.2 M670.8,402.8 L671.4,392.4 M674.0,402.0 L674.6,391.6 M677.3,401.3 L677.8,390.8 M680.5,400.5 L681.1,390.1" stroke="#222" stroke-width="0.8" fill="none"/>
<ellipse cx="684.0" cy="394.5" rx="3.0" ry="5.0" transform="rotate(-14 684.0 394.5)" fill="#fff" stroke="#000" stroke-width="0.99"/>
<rect x="652" y="397" width="14" height="9.5" fill="#fff" transform="rotate(-13 652 401)"/>
<path d="M652.0,396.5 L667.0,393.0" fill="none" stroke="#000" stroke-width="1.32"/>
<path d="M654.0,407.0 L668.0,404.0" fill="none" stroke="#000" stroke-width="1.32"/>
<ellipse cx="645.8" cy="404" rx="7.4" ry="9.5" transform="rotate(0 645.8 404)" fill="#fff" stroke="#000" stroke-width="1.68"/>
<ellipse cx="645.3" cy="404.5" rx="2.2" ry="3" transform="rotate(0 645.3 404.5)" fill="#fff" stroke="#000" stroke-width="1.32"/>
<path d="M699.0,426.7 L713.5,422.7 A2.3,3.8 -15 0 0 711.5,415.3 L697.0,419.3 Z" fill="#fff" stroke="#000" stroke-width="1.1" stroke-linejoin="round"/>
<path d="M700.3,426.3 L700.5,418.4 M702.7,425.6 L702.9,417.7 M705.2,425.0 L705.3,417.0 M707.6,424.3 L707.8,416.4 M710.0,423.6 L710.2,415.7" stroke="#222" stroke-width="0.9" fill="none"/>
<ellipse cx="712.5" cy="419.0" rx="2.3" ry="3.8" transform="rotate(-15 712.5 419.0)" fill="#fff" stroke="#000" stroke-width="0.99"/>
<ellipse cx="694" cy="424" rx="6.2" ry="7.2" transform="rotate(0 694 424)" fill="#fff" stroke="#000" stroke-width="1.68"/>
<path d="M690.5,422.0 L697.5,426.0" fill="none" stroke="#000" stroke-width="1.20"/>
<path d="M693.0,427.5 L695.0,420.5" fill="none" stroke="#000" stroke-width="1.20"/>
<path d="M702,381.5 L712,377.5 L740,366.2 L748,371.6 L748.9,420.2 L736,421.2 L723.6,414.8 L718.5,407.6 L707,400 Q700,403 694,400 Q688,394 690,386 Q693,380 702,381.5 Z" fill="#fff" stroke="#000" stroke-width="1.56" stroke-linejoin="round"/>
<ellipse cx="698.4" cy="391.4" rx="3.6" ry="5" transform="rotate(0 698.4 391.4)" fill="#fff" stroke="#000" stroke-width="1.44"/>
<path d="M719.1,394.5 L748.0,371.6" fill="none" stroke="#000" stroke-width="1.44"/>
<path d="M719.1,394.5 L718.5,407.6" fill="none" stroke="#000" stroke-width="1.44"/>
<path d="M704.0,385.0 L719.1,394.5" fill="none" stroke="#000" stroke-width="1.20"/>
<ellipse cx="718.2" cy="386" rx="3" ry="4" transform="rotate(0 718.2 386)" fill="#fff" stroke="#000" stroke-width="1.32"/>
<ellipse cx="734.4" cy="376.1" rx="3" ry="4" transform="rotate(0 734.4 376.1)" fill="#fff" stroke="#000" stroke-width="1.32"/>
<path d="M736.0,421.2 L738.0,402.0" fill="none" stroke="#000" stroke-width="0.96"/>
<path d="M748.9,371.6 L768,358.5 Q776,355 779.5,362 L780.4,407 Q780,414 773,414.8 L750.7,396.8 Z" fill="#fff" stroke="#000" stroke-width="1.68" stroke-linejoin="round"/>
<ellipse cx="769.6" cy="367.1" rx="2.6" ry="3.4" transform="rotate(0 769.6 367.1)" fill="#fff" stroke="#000" stroke-width="1.44"/>
<ellipse cx="755.2" cy="383.3" rx="3.3" ry="4.5" transform="rotate(0 755.2 383.3)" fill="#fff" stroke="#000" stroke-width="1.44"/>
<ellipse cx="771.4" cy="404" rx="2.6" ry="3.4" transform="rotate(0 771.4 404)" fill="#fff" stroke="#000" stroke-width="1.44"/>
<path d="M255.9,484.1 L267.9,489.4 A1.7,2.8 24 0 0 270.1,484.2 L258.1,478.9 Z" fill="#fff" stroke="#000" stroke-width="1.1" stroke-linejoin="round"/>
<path d="M257.5,484.8 L261.3,480.3 M259.9,485.8 L263.7,481.4 M262.3,486.9 L266.1,482.5 M264.7,488.0 L268.5,483.5" stroke="#222" stroke-width="1.1" fill="none"/>
<ellipse cx="269.0" cy="486.8" rx="1.7" ry="2.8" transform="rotate(24 269.0 486.8)" fill="#fff" stroke="#000" stroke-width="0.99"/>
<ellipse cx="253.8" cy="477.5" rx="5" ry="6" transform="rotate(0 253.8 477.5)" fill="#fff" stroke="#000" stroke-width="1.68"/>
<ellipse cx="253.5" cy="477.5" rx="2.2" ry="3" transform="rotate(0 253.5 477.5)" fill="#fff" stroke="#000" stroke-width="1.08"/>
<ellipse cx="276.2" cy="493.3" rx="5.3" ry="6.4" transform="rotate(20 276.2 493.3)" fill="#fff" stroke="#000" stroke-width="1.68"/>
<ellipse cx="276.5" cy="493.5" rx="2" ry="2.6" transform="rotate(20 276.5 493.5)" fill="#fff" stroke="#000" stroke-width="1.44"/>
<ellipse cx="291.2" cy="502.8" rx="5" ry="6" transform="rotate(25 291.2 502.8)" fill="#fff" stroke="#000" stroke-width="1.68"/>
<ellipse cx="291.6" cy="503.2" rx="2.2" ry="3" transform="rotate(25 291.6 503.2)" fill="#fff" stroke="#000" stroke-width="1.32"/>
<path d="M288.0,507.0 L292.0,500.0" fill="none" stroke="#000" stroke-width="1.20"/>
<path d="M300.6,510 Q300.8,507.5 304,507 L315,505 Q317.5,504.8 317.6,507.5 L318,518.6 L318.3,550.8 Q318.3,553.5 315.5,554.5 L305,558 Q301.5,558.8 301.2,555.5 Z" fill="#fff" stroke="#000" stroke-width="1.80" stroke-linejoin="round"/>
<path d="M302.3,510.0 L302.6,556.0" fill="none" stroke="#000" stroke-width="1.08"/>
<ellipse cx="309.6" cy="513.6" rx="2" ry="2.8" transform="rotate(25 309.6 513.6)" fill="#fff" stroke="#000" stroke-width="1.56"/>
<path d="M303,522.3 L318,518.3 L332.8,529.8 L319.2,533.5 Z" fill="#fff" stroke="#000" stroke-width="1.56" stroke-linejoin="round"/>
<path d="M319.2,533.5 L332.8,529.8 Q334.5,532 334,536 L333.4,538.4 L319.8,541 Z" fill="#fff" stroke="#000" stroke-width="1.56" stroke-linejoin="round"/>
<path d="M317.3,542.8 L332.2,539.7 Q334.5,541 334,543.4 L319.2,549 Z" fill="#fff" stroke="#000" stroke-width="1.56" stroke-linejoin="round"/>
<path d="M303.0,523.5 L319.2,533.5" fill="none" stroke="#000" stroke-width="1.32"/>
<path d="M318.6,540 Q316,534.5 311.5,535 Q307.5,536.5 308,541.5 Q309,547 314,548.5 L319,550" fill="none" stroke="#000" stroke-width="1.5"/>
<path d="M303.7,544.0 L319.2,552.5" fill="none" stroke="#000" stroke-width="1.32"/>
<path d="M307,548.5 L310,551.5 L308,553 Z" fill="#fff" stroke="#000" stroke-width="1.20" stroke-linejoin="round"/>
<path d="M316,574.5 Q313.5,570.5 309,572 Q304.5,574 305,583 Q306,591 313,590.5 L380,572.5" fill="none" stroke="#000" stroke-width="7.2" stroke-linecap="round" stroke-linejoin="round"/>
<path d="M316,574.5 Q313.5,570.5 309,572 Q304.5,574 305,583 Q306,591 313,590.5 L380,572.5" fill="none" stroke="#fff" stroke-width="4.4" stroke-linecap="round" stroke-linejoin="round"/>
<path d="M403,565 Q430,560 446,548 Q458,540 468,530" fill="none" stroke="#000" stroke-width="16.1" stroke-linecap="butt" stroke-linejoin="round"/>
<path d="M403,565 Q430,560 446,548 Q458,540 468,530" fill="none" stroke="#fff" stroke-width="13.0" stroke-linecap="butt" stroke-linejoin="round"/>
<ellipse cx="468.5" cy="530.5" rx="5.5" ry="3" transform="rotate(-50 468.5 530.5)" fill="#fff" stroke="#000" stroke-width="1.44"/>
<path d="M377.5,566 L404.5,558 L405.5,573 L379,580 Z" fill="#fff" stroke="#000" stroke-width="1.56" stroke-linejoin="round"/>
<ellipse cx="379" cy="573" rx="3.8" ry="7" transform="rotate(-15 379 573)" fill="#fff" stroke="#000" stroke-width="1.56"/>
<ellipse cx="379" cy="573" rx="1.8" ry="3.5" transform="rotate(-15 379 573)" fill="#fff" stroke="#000" stroke-width="1.20"/>
<path d="M402.0,559.0 L403.0,574.0" fill="none" stroke="#000" stroke-width="0.96"/>
<path d="M386.5,564.0 L387.5,578.0" fill="none" stroke="#000" stroke-width="1.08"/>
<path d="M471,520 Q483,505 500,493 Q520,478 556,473" fill="none" stroke="#000" stroke-width="16.6" stroke-linecap="butt" stroke-linejoin="round"/>
<path d="M471,520 Q483,505 500,493 Q520,478 556,473" fill="none" stroke="#fff" stroke-width="13.5" stroke-linecap="butt" stroke-linejoin="round"/>
<ellipse cx="470.5" cy="520.5" rx="5.5" ry="3" transform="rotate(-50 470.5 520.5)" fill="#fff" stroke="#000" stroke-width="1.44"/>
<path d="M553,465 L568,463.5 L569,484.5 L555,483 Z" fill="#fff" stroke="#000" stroke-width="1.56" stroke-linejoin="round"/>
<path d="M568,464 Q574,462 576,466 L578,465.5 Q582,467 582,474.5 Q582,482 578,484 L576,483.5 Q574,487 568,485 Z" fill="#fff" stroke="#000" stroke-width="1.56" stroke-linejoin="round"/>
<path d="M572.0,463.5 L572.5,485.5" fill="none" stroke="#000" stroke-width="1.20"/>
<path d="M576.0,466.0 L576.0,483.5" fill="none" stroke="#000" stroke-width="1.20"/>
<path d="M583,471.5 L604,465" fill="none" stroke="#000" stroke-width="7.5" stroke-linecap="butt" stroke-linejoin="round"/>
<path d="M583,471.5 L604,465" fill="none" stroke="#fff" stroke-width="4.6" stroke-linecap="butt" stroke-linejoin="round"/>
<circle cx="614.5" cy="462.5" r="5.6" fill="none" stroke="#000" stroke-width="4.8"/>
<circle cx="614.5" cy="462.5" r="5.6" fill="none" stroke="#fff" stroke-width="2.2"/>
<path d="M625.0,455.0 L630.0,456.0" fill="none" stroke="#000" stroke-width="1.32"/>
<path d="M635,489.5 Q628.5,480 634,474.5 Q640,469.5 646,474 Q649.5,478 646.5,484 L644.5,486" fill="none" stroke="#000" stroke-width="4.4" stroke-linecap="round"/>
<path d="M635,489.5 Q628.5,480 634,474.5 Q640,469.5 646,474 Q649.5,478 646.5,484 L644.5,486" fill="none" stroke="#fff" stroke-width="1.6" stroke-linecap="round"/>
<path d="M637.5,476.0 L639.0,479.0 L641.5,475.5" fill="none" stroke="#000" stroke-width="1.20"/>
<path d="M633.0,482.0 L636.0,484.0" fill="none" stroke="#000" stroke-width="1.20"/>
<path d="M643.0,481.0 L646.0,479.0" fill="none" stroke="#000" stroke-width="1.20"/>
<path d="M441.8,651 Q441,647 445,646 L508,625.5 Q512,625 513.5,629 L517,657 Q517.5,661 513.5,662 L452,681.5 Q448,682.5 447.5,678 Z M451,655 L462,651.5 Q466,648 470,647.5 L488,641.5 Q492,639 498,638 L504,637 Q506,637 506.5,640 L507.5,655 Q507.5,657.5 505,658 L492,661.5 Q488,664 484,664.5 L465,669.5 Q461,671 455,671.5 L453,672 Q451.5,672 451.5,669 Z" fill="url(#foam)" fill-rule="evenodd" stroke="#000" stroke-width="1.5"/>
<path d="M313,697 Q313,693 317,692.5 L348,681.7 Q353,681 353.5,685 L354.5,710 Q354.5,714 350,715 L320,724 Q316.4,724.5 316.4,720.5 Z M322.5,703 L327,699 L334,698.5 L339,695 L344,694 L345,709 L338,710 L333,712 L327,711.5 L323,709 Z" fill="url(#foam)" fill-rule="evenodd" stroke="#000" stroke-width="1.5"/>
<path d="M495.0,691.0 L507.6,699.2 A2.2,3.6 33 0 0 511.6,693.2 L499.0,685.0 Z" fill="#fff" stroke="#000" stroke-width="1.1" stroke-linejoin="round"/>
<path d="M496.2,691.8 L502.0,686.9 M498.3,693.2 L504.1,688.3 M500.4,694.5 L506.2,689.7 M502.5,695.9 L508.3,691.0 M504.6,697.3 L510.4,692.4" stroke="#222" stroke-width="1.0" fill="none"/>
<ellipse cx="509.6" cy="696.2" rx="2.2" ry="3.6" transform="rotate(33 509.6 696.2)" fill="#fff" stroke="#000" stroke-width="0.99"/>
<ellipse cx="493.5" cy="686.3" rx="5.5" ry="6.8" transform="rotate(0 493.5 686.3)" fill="#fff" stroke="#000" stroke-width="1.68"/>
<ellipse cx="493" cy="686.5" rx="2.3" ry="3.5" transform="rotate(0 493 686.5)" fill="#fff" stroke="#000" stroke-width="1.08"/>
<ellipse cx="520" cy="705" rx="7" ry="8.7" transform="rotate(20 520 705)" fill="#fff" stroke="#000" stroke-width="1.68"/>
<ellipse cx="520.5" cy="705.5" rx="3.2" ry="4.2" transform="rotate(20 520.5 705.5)" fill="#fff" stroke="#000" stroke-width="1.44"/>
<path d="M552,711 L565.5,716.5 Q568.5,718.5 568.3,721 L568.3,726 Q567.5,729.5 563.5,729 L551,724 Z" fill="#fff" stroke="#000" stroke-width="1.56" stroke-linejoin="round"/>
<path d="M556.0,716.0 L562.0,718.5 L563.5,729.0" fill="none" stroke="#000" stroke-width="1.20"/>
<ellipse cx="537.5" cy="720" rx="13.2" ry="14.3" transform="rotate(-10 537.5 720)" fill="#fff" stroke="#000" stroke-width="1.68"/>
<ellipse cx="539.5" cy="720.5" rx="11.8" ry="13.5" transform="rotate(-10 539.5 720.5)" fill="none" stroke="#000" stroke-width="1.20"/>
<ellipse cx="543.5" cy="722" rx="9.6" ry="11.6" transform="rotate(-10 543.5 722)" fill="#fff" stroke="#000" stroke-width="1.68"/>
<ellipse cx="545" cy="722.5" rx="7.8" ry="10" transform="rotate(-10 545 722.5)" fill="none" stroke="#000" stroke-width="1.08"/>
<path d="M541,722.3 L549.2,718.1 L549.9,725.1 L541.8,729.3 Z" fill="#fff" stroke="#000" stroke-width="1.68" stroke-linejoin="round"/>
<path d="M543.0,724.0 L548.0,721.5" fill="none" stroke="#000" stroke-width="1.08"/>
<path d="M545.5,720.0 L546.0,727.5" fill="none" stroke="#000" stroke-width="1.08"/>
<path d="M572,662 Q572,655 579,655 Q586,656 586,662 L584,676 L580.5,700 L582,716 L570,716 L566,700 L571.5,688 Z" fill="#fff" stroke="#000" stroke-width="1.68" stroke-linejoin="round"/>
<ellipse cx="576" cy="664" rx="2.6" ry="3" transform="rotate(0 576 664)" fill="#fff" stroke="#000" stroke-width="1.32"/>
<ellipse cx="575" cy="707" rx="2.5" ry="3" transform="rotate(0 575 707)" fill="#fff" stroke="#000" stroke-width="1.32"/>
<path d="M574.0,671.0 L570.0,700.0" fill="none" stroke="#000" stroke-width="1.20"/>
<path d="M578.0,670.0 L576.0,700.0" fill="none" stroke="#000" stroke-width="1.20"/>
<path d="M582,714 L579,720 L584,722 L580,727 L584,730" fill="none" stroke="#000" stroke-width="1" stroke-dasharray="2,1.5"/>
<path d="M668.0,721.7 L685.0,716.2 A2.0,3.4 -18 0 0 683.0,709.8 L666.0,715.3 Z" fill="#fff" stroke="#000" stroke-width="1.1" stroke-linejoin="round"/>
<path d="M669.5,721.3 L669.4,714.2 M671.9,720.5 L671.8,713.4 M674.4,719.7 L674.2,712.6 M676.8,718.9 L676.6,711.8 M679.2,718.1 L679.1,711.0 M681.6,717.3 L681.5,710.2" stroke="#222" stroke-width="1.0" fill="none"/>
<ellipse cx="684.0" cy="713.0" rx="2.0" ry="3.4" transform="rotate(-18 684.0 713.0)" fill="#fff" stroke="#000" stroke-width="0.99"/>
<ellipse cx="686" cy="712" rx="5.5" ry="7" transform="rotate(0 686 712)" fill="#fff" stroke="#000" stroke-width="1.68"/>
<ellipse cx="686" cy="712" rx="2.3" ry="3.3" transform="rotate(0 686 712)" fill="#fff" stroke="#000" stroke-width="1.08"/>
<path d="M646,726 L664,719" fill="none" stroke="#000" stroke-width="1.1" stroke-dasharray="6,3"/>
<path d="M497,857 Q492,860 493,866 Q494,872.5 500,872 L659.5,830 L659,817.5 Q658,814.5 655,815.5 Z" fill="#fff" stroke="#000" stroke-width="1.80" stroke-linejoin="round"/>
<path d="M497.0,857.0 L655.5,816.5" fill="none" stroke="#000" stroke-width="1.20"/>
<path d="M667,811 Q667,806 672,805.5 L676,806 L681,825 Q676,826 671,822 Q667,818 667,811 Z" fill="#fff" stroke="#000" stroke-width="1.56" stroke-linejoin="round"/>
<ellipse cx="678.5" cy="817" rx="7" ry="8.5" transform="rotate(-15 678.5 817)" fill="#fff" stroke="#000" stroke-width="1.80"/>
<ellipse cx="678.8" cy="817.2" rx="4" ry="5" transform="rotate(-15 678.8 817.2)" fill="#fff" stroke="#000" stroke-width="1.44"/>
<path d="M684.5,822 Q684,818 688,818.5 L713,836 L722,849 Q718,853 707,851 L686,828 Z" fill="#fff" stroke="#000" stroke-width="1.44" stroke-linejoin="round"/>
<path d="M686.0,826.0 L692.0,819.0 M688.5,828.0 L694.5,821.0 M691.0,830.0 L697.0,823.0 M693.5,832.0 L699.5,825.0 M696.0,834.0 L702.0,827.0 M698.5,836.0 L704.5,829.0 M701.0,838.0 L707.0,831.0 M703.5,840.0 L709.5,833.0 " stroke="#000" stroke-width="1.1" fill="none"/>
<ellipse cx="714.4" cy="845" rx="7" ry="9" transform="rotate(0 714.4 845)" fill="#fff" stroke="#000" stroke-width="1.68"/>
<ellipse cx="715.5" cy="845.8" rx="3.3" ry="4.5" transform="rotate(0 715.5 845.8)" fill="#fff" stroke="#000" stroke-width="1.32"/>
<path d="M692.8,841.2 L692.8,847.2 L739.6,877.2 L739.6,871.2" fill="none" stroke="#000" stroke-width="1.32"/>
<path d="M725,849.5 Q723.5,851.5 725,853.5 L735,859 L737,864 L739,862.5 L741,865.5 L747,868 L749,862 L741,857 L727.5,849 Z" fill="#fff" stroke="#000" stroke-width="1.44" stroke-linejoin="round"/>
<path d="M741,857 L748,859.5 L750,866 L745,868 Z" fill="#fff" stroke="#000" stroke-width="1.32" stroke-linejoin="round"/>
<ellipse cx="757.6" cy="872.4" rx="10.5" ry="13.2" transform="rotate(-10 757.6 872.4)" fill="#fff" stroke="#000" stroke-width="1.92"/>
<ellipse cx="756.8" cy="873.4" rx="8" ry="10.5" transform="rotate(-10 756.8 873.4)" fill="#fff" stroke="#000" stroke-width="1.20"/>
<path d="M752,867 Q749.5,868 750,874 Q751,878 754,877 Q756,873 755,868 M756,874 Q758,879 762,877" fill="none" stroke="#000" stroke-width="1.2"/>
<path d="M568,732.5 L587,738.5 Q592,741 592,747 L577,756 Q568,756 564,750 Q561,742 568,732.5 Z" fill="#fff" stroke="#000" stroke-width="1.56" stroke-linejoin="round"/>
<ellipse cx="565.5" cy="744" rx="4.6" ry="11.5" transform="rotate(22 565.5 744)" fill="#fff" stroke="#000" stroke-width="1.68"/>
<ellipse cx="568" cy="743.5" rx="3.6" ry="9" transform="rotate(22 568 743.5)" fill="#fff" stroke="#000" stroke-width="1.44"/>
<ellipse cx="584.5" cy="733.5" rx="4" ry="4.5" transform="rotate(0 584.5 733.5)" fill="#fff" stroke="#000" stroke-width="1.56"/>
<path d="M579.0,736.0 L588.0,737.0" fill="none" stroke="#000" stroke-width="1.08"/>
<path d="M612,737 Q611,729 617,728.5 Q621,729 624,734 L624,737 Z" fill="#fff" stroke="#000" stroke-width="1.56" stroke-linejoin="round"/>
<path d="M439,808 Q450,797 468,795 L473,799 L482,802 L570,777 L580,770 L581,756 L636,730 Q645,728 646,738 L646.5,755 Q645,772 630,785 L608,792 L460,835 Q446,836 440,828 Q436,820 439,808 Z" fill="#fff" stroke="#000" stroke-width="1.80" stroke-linejoin="round"/>
<path d="M515,770.5 L550,767 Q553,762 558,761.5 L579,766 L583,766 L580,772 L556,779 L526,785 L515,783.5 Q511.5,778 515,770.5 Z" fill="#fff" stroke="#000" stroke-width="1.68" stroke-linejoin="round"/>
<path d="M515.0,777.5 L555.0,776.0" fill="none" stroke="#000" stroke-width="1.20"/>
<path d="M576,755 Q583,757 583.5,764 Q583,769 579,767.5 Q579,760 574,757 Z" fill="#fff" stroke="#000" stroke-width="1.56" stroke-linejoin="round"/>
<path d="M430,803 L449,798 L449,803.5 L438,807 L438,811 L430,813 Z" fill="#fff" stroke="#000" stroke-width="1.44" stroke-linejoin="round"/>
<path d="M443,827 Q442,814 455,810.5 L602,771.5 Q628,765 645,741" fill="none" stroke="#000" stroke-width="1.2"/>
<path d="M466.0,815.0 L605.0,778.0" fill="none" stroke="#000" stroke-width="1.32"/>
<path d="M466.0,820.0 L605.0,783.0" fill="none" stroke="#000" stroke-width="1.20"/>
<path d="M467.0,826.0 L606.0,789.0" fill="none" stroke="#000" stroke-width="1.32"/>
<path d="M603,777.5 L607,776.5 L607.5,788 L603.5,789 Z" fill="#fff" stroke="#000" stroke-width="1.20" stroke-linejoin="round"/>
<path d="M445,830 Q450,833 462,831.5 L608,792" fill="none" stroke="#000" stroke-width="0.9"/>
<rect x="491.6" y="812.3" width="6" height="6.5" fill="#888" stroke="#000" stroke-width="1.3"/>
<rect x="541.5" y="797.8" width="6" height="6.5" fill="#888" stroke="#000" stroke-width="1.3"/>
<rect x="592" y="780.3" width="6" height="6.5" fill="#888" stroke="#000" stroke-width="1.3"/>
<path d="M446,818.5 L457,815.5 Q461,817 460,821 L448,824.5 Q444.5,823 446,818.5 Z" fill="#fff" stroke="#000" stroke-width="2.16" stroke-linejoin="round"/>
<ellipse cx="621.5" cy="777" rx="6.5" ry="8.2" transform="rotate(-20 621.5 777)" fill="#fff" stroke="#000" stroke-width="1.56"/>
<path d="M623.0,779.0 L667.0,808.0" fill="none" stroke="#000" stroke-width="1.32"/>
<path d="M602.4,790 L602.4,806 L596,812 L596,818" fill="none" stroke="#000" stroke-width="3.6"/>
<path d="M602.4,790 L602.4,806 L596,812 L596,818" fill="none" stroke="#fff" stroke-width="1.5"/>
<ellipse cx="595.2" cy="823.5" rx="5" ry="6.5" transform="rotate(0 595.2 823.5)" fill="#fff" stroke="#000" stroke-width="1.68"/>
<ellipse cx="595" cy="824" rx="2" ry="3" transform="rotate(0 595 824)" fill="#fff" stroke="#000" stroke-width="1.32"/></svg></body></html>
